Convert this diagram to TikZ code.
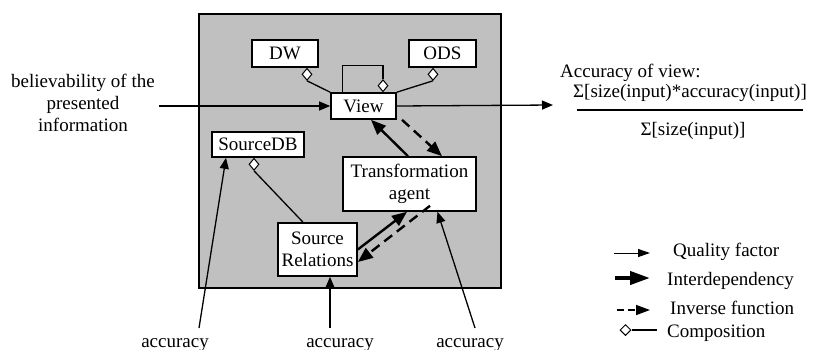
\documentclass[tikz,border=0pt]{standalone}
\usepackage{fontspec}
\setmainfont{Liberation Serif}
\usetikzlibrary{arrows.meta,shapes.geometric}
\definecolor{panel}{RGB}{192,192,192}
\begin{document}
\begin{tikzpicture}[x=1pt,y=-1pt,
  font=\fontsize{19}{22}\selectfont,
  box/.style={draw, fill=white, line width=1.6pt, inner sep=0pt, align=center},
  comp/.style={diamond, draw, fill=white, line width=1pt, inner sep=0pt,
    minimum width=10pt, minimum height=12pt},
  link/.style={line width=1.3pt},
  quality/.style={line width=1.3pt, -{Triangle[length=11pt,width=9pt]}},
  interdep/.style={line width=2.4pt, -{Triangle[length=15pt,width=12pt]}},
  inverse/.style={line width=2.4pt, dash pattern=on 10pt off 6pt,
    -{Triangle[length=15pt,width=12pt]}},
  lbl/.style={inner sep=0pt}]

\useasboundingbox (0,0) rectangle (817,349);

% grey panel holding the warehouse components
\draw[fill=panel, line width=1.6pt] (199,14) rectangle (501,288);

% components
\node[box, minimum width=66pt, minimum height=27pt] (DW) at (285,53.5) {DW};
\node[box, minimum width=67pt, minimum height=27pt] (ODS) at (442.5,53.5) {ODS};
\node[box, minimum width=65pt, minimum height=26pt] (View) at (363.5,106) {View};
\node[box, minimum width=92pt, minimum height=25pt] (SDB) at (258,144.5) {SourceDB};
\node[box, minimum width=133pt, minimum height=54pt] (TA) at (409.5,184) {Transformation\\agent};
\node[box, minimum width=79pt, minimum height=53pt] (SR) at (317.5,249.5) {Source\\Relations};

% composition diamonds
\node[comp, anchor=north] (dwc) at ([xshift=22pt]DW.south) {};
\node[comp, anchor=north] (odsc) at ([xshift=-9.5pt]ODS.south) {};
\node[comp, anchor=south] (loopc) at ([xshift=19.5pt]View.north) {};
\node[comp, anchor=north] (sdbc) at ([xshift=-4pt]SDB.south) {};

\draw[link] (dwc.south) -- (View.north west);
\draw[link] (odsc.south) -- (View.north east);
\draw[link] ([xshift=12pt]View.north west) -- ++(0,-27) -| (loopc.north);
\draw[link] (sdbc.south) -- ([xshift=-14.5pt]SR.north);

% quality factors
\coordinate (bIn) at (159,106);
\coordinate (accOut) at (553,105);
\coordinate (a1) at (199,328);
\coordinate (a2) at (330,328);
\coordinate (a3) at (475,328);
\draw[quality] (bIn) -- (View.west);
\draw[quality] (View.east) -- (accOut);
\draw[quality] (a1) -- ([xshift=-32pt]SDB.south);
\draw[quality] (a2) -- ([xshift=12.5pt]SR.south);
\draw[quality] (a3) -- ([xshift=28pt]TA.south);

% interdependencies and inverse functions
\draw[interdep] ([xshift=-1.5pt]TA.north) -- ([xshift=7.5pt]View.south);
\draw[inverse] ([xshift=38.5pt]View.south) -- ([xshift=32.5pt]TA.north);
\draw[interdep] (SR.east) -- ([xshift=-2.5pt]TA.south);
\draw[inverse] ([xshift=20.5pt,yshift=6pt]TA.south) -- ([yshift=-12.5pt]SR.east);

% labels (base of a multi-line node is its last line)
\node[lbl, align=center, anchor=base] (believe) at (83,131)
  {believability of the\\presented\\information};
\node[lbl, anchor=base west] (accTitle) at (560,77) {Accuracy of view:};
\node[lbl, anchor=base] (num) at (690,97) {Σ[size(input)*accuracy(input)]};
\draw[line width=1.6pt] (577,110) -- (803,110);
\node[lbl, anchor=base] (den) at (693,135) {Σ[size(input)]};

\node[lbl, anchor=base] (acc1) at (175,347) {accuracy};
\node[lbl, anchor=base] (acc2) at (340,347) {accuracy};
\node[lbl, anchor=base] (acc3) at (470,347) {accuracy};

% legend
\coordinate (q0) at (614,253); \coordinate (q1) at (650,253);
\draw[line width=1pt, -{Triangle[length=12pt,width=8pt]}] (q0) -- (q1);
\node[lbl, anchor=base west] (lq) at (673,256) {Quality factor};

\coordinate (i0) at (615,278); \coordinate (i1) at (650,278);
\draw[line width=4pt, -{Triangle[length=20pt,width=13pt]}] (i0) -- (i1);
\node[lbl, anchor=base west] (li) at (667,285) {Interdependency};

\coordinate (f0) at (617,310); \coordinate (f1) at (650,310);
\draw[line width=1.5pt, dash pattern=on 7pt off 4pt,
  -{Triangle[length=14pt,width=10pt]}] (f0) -- (f1);
\node[lbl, anchor=base west] (lf) at (670,314) {Inverse function};

\node[comp, minimum width=11pt, minimum height=11pt] (cd) at (625.5,330) {};
\coordinate (c1) at (657,330);
\draw[link] (cd.east) -- (c1);
\node[lbl, anchor=base west] (lc) at (667,337) {Composition};
\end{tikzpicture}
\end{document}
